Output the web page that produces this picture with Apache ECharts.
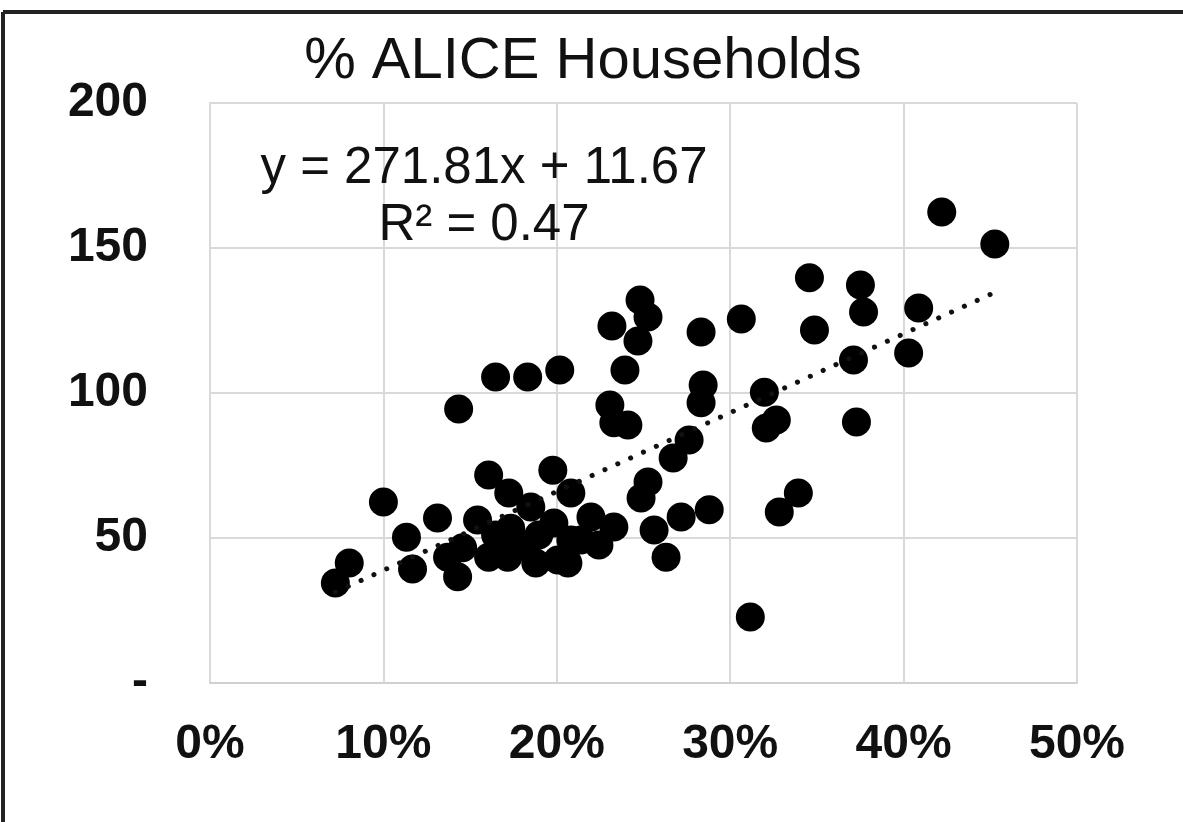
<!DOCTYPE html>
<html>
<head>
<meta charset="utf-8">
<script src="https://cdn.jsdelivr.net/npm/echarts@6/dist/echarts.min.js"></script>
<style>
html,body{margin:0;padding:0;background:#fff;}
#chart{width:1183px;height:822px;}
</style>
</head>
<body>
<div id="chart"></div>
<script>
// share of ALICE households (fraction)
const aliceShare = [
  0.0723,0.0803,0.1000,0.1133,0.1168,0.1312,0.1434,0.1370,0.1428,0.1457,
  0.1543,0.1607,0.1607,0.1647,0.1647,0.1723,0.1717,0.1734,0.1792,0.1832,
  0.1850,0.1879,0.1896,0.1977,0.1983,0.2017,0.2006,0.2064,0.2081,0.2081,
  0.2139,0.2197,0.2243,0.2329,0.2306,0.2329,0.2410,0.2318,0.2480,0.2526,
  0.2468,0.2393,0.2486,0.2526,0.2561,0.2630,0.2671,0.2717,0.2763,0.2832,
  0.2844,0.2832,0.2879,0.3064,0.3116,0.3197,0.3266,0.3208,0.3283,0.3393,
  0.3457,0.3486,0.3711,0.3728,0.3751,0.3769,0.4029,0.4087,0.4220,0.4526
];
// y values
const yValues = [
  34.5,41.4,62.4,50.3,39.3,56.9,94.5,43.4,36.6,46.6,
  56.2,71.7,43.4,105.5,51.0,65.5,43.4,53.4,47.6,105.5,
  60.7,41.4,51.0,73.4,55.2,107.9,42.4,41.4,65.5,49.3,
  49.3,57.2,47.6,53.8,95.9,89.7,89.0,123.1,132.1,126.2,
  117.9,107.9,63.8,69.3,52.8,43.4,77.6,57.2,83.8,121.0,
  102.8,96.6,59.7,125.5,22.8,100.3,90.7,87.9,59.0,65.5,
  139.7,121.7,111.4,90.0,137.2,127.9,113.8,129.3,162.4,151.4
];
const trendSlope = 271.81;
const trendIntercept = 11.67;
const xTicks = [0, 0.1, 0.2, 0.3, 0.4, 0.5];
const yTicks = [0, 50, 100, 150, 200];
const chartTitle = '% ALICE Households';
const eqLine1 = 'y = 271.81x + 11.67';
const eqLine2 = 'R² = 0.47';

const points = aliceShare.map((x, i) => [x, yValues[i]]);
const xMin = Math.min(...aliceShare), xMax = Math.max(...aliceShare);
const trend = [xMin, xMax].map(x => [x, trendSlope * x + trendIntercept]);

const FONT = '"Liberation Sans", Arial, Helvetica, sans-serif';
const chart = echarts.init(document.getElementById('chart'), null, {renderer: 'canvas'});
chart.setOption({
  backgroundColor: '#ffffff',
  animation: false,
  title: [
    {text: chartTitle, left: 578, top: 57, textAlign: 'center', textVerticalAlign: 'middle',
     textStyle: {fontFamily: FONT, fontSize: 58, fontWeight: 'normal', color: '#111'}},
    {text: eqLine1, left: 479, top: 164, textAlign: 'center', textVerticalAlign: 'middle',
     textStyle: {fontFamily: FONT, fontSize: 51, fontWeight: 'normal', color: '#111'}},
    {text: eqLine2, left: 479, top: 221, textAlign: 'center', textVerticalAlign: 'middle',
     textStyle: {fontFamily: FONT, fontSize: 51, fontWeight: 'normal', color: '#111'}}
  ],
  graphic: [
    {type: 'line', shape: {x1: 3, y1: 12, x2: 1183, y2: 12}, style: {stroke: '#222', lineWidth: 4}},
    {type: 'line', shape: {x1: 3, y1: 12, x2: 3, y2: 822}, style: {stroke: '#222', lineWidth: 4}}
  ],
  grid: {left: 210, top: 103, right: 106, bottom: 139, containLabel: false},
  xAxis: {
    type: 'value', min: xTicks[0], max: xTicks[xTicks.length - 1], interval: 0.1,
    axisLine: {show: true, lineStyle: {color: '#d0d0d0', width: 2}},
    axisTick: {show: false},
    splitLine: {show: true, lineStyle: {color: '#d9d9d9', width: 2}},
    axisLabel: {
      margin: 38, fontFamily: FONT, fontSize: 48, fontWeight: 'bold', color: '#111',
      formatter: v => Math.round(v * 100) + '%'
    }
  },
  yAxis: {
    type: 'value', min: yTicks[0], max: yTicks[yTicks.length - 1], interval: 50,
    axisLine: {show: true, lineStyle: {color: '#d9d9d9', width: 2}},
    axisTick: {show: false},
    splitLine: {show: true, lineStyle: {color: '#d9d9d9', width: 2}},
    axisLabel: {
      margin: 62, fontFamily: FONT, fontSize: 48, fontWeight: 'bold', color: '#111',
      formatter: v => v === 0 ? '-' : String(v)
    }
  },
  series: [
    {
      type: 'line', data: trend, symbol: 'none', silent: true, z: 3,
      lineStyle: {color: '#111', width: 5, type: [0.1, 14], cap: 'round'}
    },
    {
      type: 'scatter', data: points, symbol: 'circle', symbolSize: 29, z: 2,
      itemStyle: {color: '#000', opacity: 1}
    }
  ]
});
</script>
</body>
</html>
